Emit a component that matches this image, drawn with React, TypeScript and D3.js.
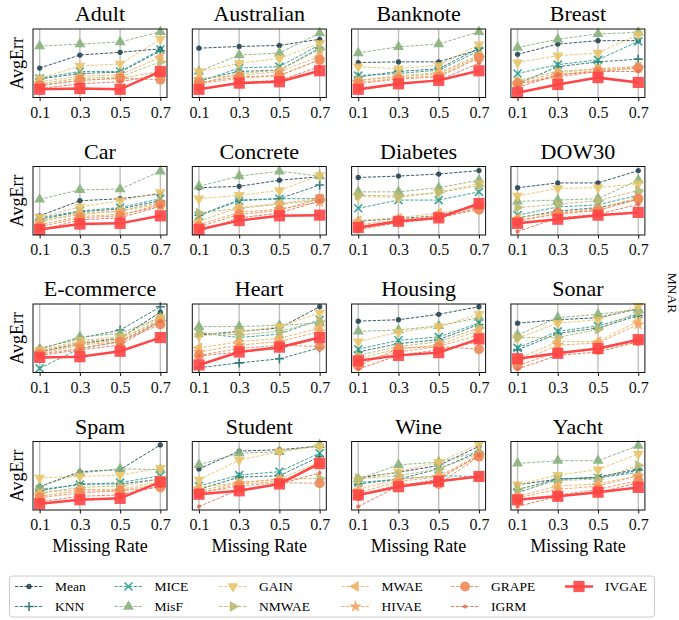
import * as d3 from 'd3';
import React, { useRef, useEffect } from 'react';

// missing rates on the x axis
const rates = [0.1, 0.3, 0.5, 0.7];

const methods = ["Mean", "KNN", "MICE", "MisF", "GAIN", "NMWAE", "MWAE", "HIVAE", "GRAPE", "IGRM", "IVGAE"];
const colors = ["#264653", "#287271", "#2a9d8f", "#8ab17d", "#e9c46a", "#babb74", "#efb366", "#f4a261", "#ee8959", "#e76f51", "#ff4545"];
const markers = ["dot", "plus", "x", "triUp", "triDown", "triRight", "triLeft", "star", "bigCircle", "smallDot", "square"];

// AvgErr per dataset, rows follow `methods` (normalised per panel)
const adult = [
    [0.43, 0.62, 0.66, 0.71], [0.27, 0.35, 0.37, 0.68], [0.28, 0.38, 0.38, 0.70], [0.75, 0.78, 0.81, 0.96],
    [0.28, 0.46, 0.49, 0.85], [0.20, 0.28, 0.30, 0.52], [0.23, 0.31, 0.33, 0.59], [0.18, 0.25, 0.28, 0.38],
    [0.17, 0.25, 0.28, 0.26], [0.13, 0.20, 0.23, 0.33], [0.12, 0.13, 0.12, 0.38]];
const australian = [
    [0.72, 0.745, 0.76, 0.85], [0.25, 0.38, 0.40, 0.72], [0.23, 0.43, 0.45, 0.77], [0.38, 0.62, 0.65, 0.94],
    [0.38, 0.50, 0.57, 0.79], [0.20, 0.35, 0.40, 0.70], [0.28, 0.32, 0.38, 0.60], [0.20, 0.28, 0.32, 0.55],
    [0.22, 0.30, 0.32, 0.55], [0.12, 0.22, 0.25, 0.45], [0.12, 0.21, 0.23, 0.39]];
const banknote = [
    [0.51, 0.52, 0.52, 0.70], [0.30, 0.38, 0.42, 0.72], [0.32, 0.35, 0.40, 0.68], [0.65, 0.74, 0.78, 0.96],
    [0.45, 0.42, 0.47, 0.77], [0.25, 0.30, 0.35, 0.60], [0.25, 0.32, 0.36, 0.62], [0.22, 0.28, 0.32, 0.58],
    [0.20, 0.27, 0.30, 0.58], [0.10, 0.20, 0.25, 0.50], [0.12, 0.20, 0.25, 0.39]];
const breast = [
    [0.63, 0.78, 0.83, 0.83], [0.20, 0.45, 0.52, 0.56], [0.35, 0.48, 0.55, 0.82], [0.73, 0.85, 0.93, 0.95],
    [0.51, 0.61, 0.65, 0.92], [0.25, 0.38, 0.42, 0.45], [0.22, 0.36, 0.42, 0.45], [0.20, 0.33, 0.40, 0.43],
    [0.20, 0.30, 0.38, 0.43], [0.15, 0.33, 0.38, 0.38], [0.07, 0.19, 0.29, 0.22]];
const car = [
    [0.28, 0.50, 0.53, 0.60], [0.23, 0.34, 0.38, 0.50], [0.25, 0.35, 0.40, 0.53], [0.52, 0.66, 0.67, 0.93],
    [0.26, 0.41, 0.50, 0.62], [0.20, 0.30, 0.35, 0.48], [0.20, 0.32, 0.35, 0.45], [0.15, 0.27, 0.30, 0.42],
    [0.12, 0.25, 0.28, 0.45], [0.07, 0.22, 0.25, 0.42], [0.08, 0.16, 0.17, 0.28]];
const concrete = [
    [0.69, 0.71, 0.80, 0.85], [0.29, 0.51, 0.53, 0.73], [0.28, 0.50, 0.53, 0.53], [0.71, 0.86, 0.93, 0.86],
    [0.53, 0.58, 0.65, 0.87], [0.32, 0.39, 0.45, 0.51], [0.20, 0.40, 0.46, 0.53], [0.15, 0.33, 0.38, 0.48],
    [0.12, 0.30, 0.36, 0.53], [0.05, 0.25, 0.32, 0.50], [0.08, 0.21, 0.28, 0.29]];
const diabetes = [
    [0.84, 0.86, 0.89, 0.94], [0.20, 0.24, 0.28, 0.45], [0.39, 0.51, 0.51, 0.63], [0.63, 0.63, 0.69, 0.80],
    [0.56, 0.55, 0.62, 0.75], [0.58, 0.57, 0.62, 0.72], [0.21, 0.25, 0.32, 0.41], [0.15, 0.22, 0.28, 0.42],
    [0.10, 0.20, 0.26, 0.37], [0.08, 0.18, 0.24, 0.40], [0.11, 0.20, 0.25, 0.46]];
const dow30 = [
    [0.69, 0.76, 0.76, 0.94], [0.25, 0.35, 0.40, 0.52], [0.29, 0.41, 0.44, 0.58], [0.49, 0.51, 0.53, 0.80],
    [0.57, 0.68, 0.69, 0.75], [0.40, 0.45, 0.50, 0.65], [0.25, 0.33, 0.38, 0.55], [0.22, 0.30, 0.36, 0.52],
    [0.20, 0.32, 0.36, 0.53], [0.05, 0.25, 0.30, 0.45], [0.17, 0.23, 0.29, 0.33]];
const ecommerce = [
    [0.30, 0.42, 0.50, 0.88], [0.35, 0.50, 0.62, 0.96], [0.06, 0.35, 0.45, 0.75], [0.34, 0.52, 0.57, 0.80],
    [0.32, 0.47, 0.52, 0.80], [0.30, 0.45, 0.50, 0.76], [0.32, 0.42, 0.47, 0.78], [0.28, 0.40, 0.45, 0.73],
    [0.27, 0.35, 0.45, 0.70], [0.25, 0.33, 0.40, 0.75], [0.22, 0.23, 0.31, 0.51]];
const heart = [
    [0.55, 0.60, 0.65, 0.96], [0.07, 0.14, 0.20, 0.36], [0.58, 0.51, 0.56, 0.77], [0.67, 0.67, 0.69, 0.72],
    [0.53, 0.59, 0.67, 0.87], [0.58, 0.55, 0.60, 0.75], [0.36, 0.45, 0.50, 0.65], [0.30, 0.40, 0.45, 0.60],
    [0.25, 0.35, 0.40, 0.38], [0.24, 0.30, 0.35, 0.50], [0.11, 0.30, 0.37, 0.51]];
const housing = [
    [0.75, 0.77, 0.85, 0.96], [0.30, 0.42, 0.48, 0.70], [0.34, 0.47, 0.52, 0.72], [0.60, 0.62, 0.68, 0.80],
    [0.45, 0.59, 0.67, 0.85], [0.25, 0.38, 0.45, 0.65], [0.20, 0.35, 0.40, 0.62], [0.15, 0.30, 0.38, 0.55],
    [0.10, 0.35, 0.38, 0.34], [0.05, 0.25, 0.33, 0.45], [0.17, 0.25, 0.29, 0.49]];
const sonar = [
    [0.72, 0.77, 0.80, 0.93], [0.33, 0.57, 0.65, 0.83], [0.36, 0.60, 0.68, 0.85], [0.55, 0.80, 0.85, 0.92],
    [0.50, 0.72, 0.77, 0.97], [0.51, 0.51, 0.63, 0.88], [0.20, 0.45, 0.45, 0.75], [0.15, 0.40, 0.43, 0.70],
    [0.10, 0.30, 0.33, 0.46], [0.05, 0.25, 0.30, 0.45], [0.20, 0.28, 0.35, 0.48]];
const spam = [
    [0.34, 0.56, 0.59, 0.95], [0.28, 0.38, 0.38, 0.45], [0.30, 0.37, 0.40, 0.50], [0.34, 0.54, 0.60, 0.59],
    [0.47, 0.49, 0.51, 0.61], [0.25, 0.33, 0.35, 0.45], [0.25, 0.30, 0.30, 0.42], [0.20, 0.28, 0.28, 0.38],
    [0.18, 0.25, 0.28, 0.33], [0.12, 0.20, 0.22, 0.35], [0.09, 0.15, 0.17, 0.41]];
const student = [
    [0.60, 0.86, 0.88, 0.93], [0.30, 0.48, 0.50, 0.78], [0.35, 0.51, 0.56, 0.83], [0.66, 0.83, 0.85, 0.95],
    [0.44, 0.73, 0.85, 0.93], [0.28, 0.40, 0.45, 0.46], [0.33, 0.40, 0.45, 0.70], [0.25, 0.38, 0.42, 0.65],
    [0.25, 0.35, 0.40, 0.39], [0.05, 0.30, 0.38, 0.54], [0.23, 0.28, 0.38, 0.68]];
const wine = [
    [0.47, 0.55, 0.65, 0.93], [0.38, 0.45, 0.60, 0.85], [0.40, 0.45, 0.50, 0.49], [0.45, 0.66, 0.70, 0.85],
    [0.44, 0.56, 0.70, 0.96], [0.46, 0.50, 0.60, 0.82], [0.30, 0.45, 0.50, 0.80], [0.25, 0.42, 0.48, 0.78],
    [0.20, 0.38, 0.38, 0.78], [0.05, 0.35, 0.45, 0.80], [0.22, 0.34, 0.42, 0.49]];
const yacht = [
    [0.37, 0.45, 0.48, 0.60], [0.30, 0.45, 0.47, 0.58], [0.25, 0.45, 0.47, 0.55], [0.68, 0.72, 0.72, 0.94],
    [0.37, 0.51, 0.59, 0.82], [0.30, 0.43, 0.45, 0.65], [0.20, 0.35, 0.38, 0.50], [0.18, 0.30, 0.35, 0.50],
    [0.15, 0.22, 0.30, 0.43], [0.05, 0.20, 0.25, 0.40], [0.15, 0.20, 0.26, 0.33]];

const datasets = ["Adult", "Australian", "Banknote", "Breast", "Car", "Concrete", "Diabetes", "DOW30",
    "E-commerce", "Heart", "Housing", "Sonar", "Spam", "Student", "Wine", "Yacht"];
const errors = [adult, australian, banknote, breast, car, concrete, diabetes, dow30,
    ecommerce, heart, housing, sonar, spam, student, wine, yacht];

const width = 679;
const height = 620;
const font = "'Liberation Serif', 'Times New Roman', serif";

// layout of the 4x4 grid
const gridLeft = 33, colStep = 159.3, panelW = 134;
const gridTop = 29, rowStep = 137.5, panelH = 68.5;

function markerPath(type) {
    switch (type) {
        case "dot": return d3.symbol(d3.symbolCircle, 22)();
        case "smallDot": return d3.symbol(d3.symbolCircle, 14)();
        case "bigCircle": return d3.symbol(d3.symbolCircle, 80)();
        case "square": return d3.symbol(d3.symbolSquare, 125)();
        case "star": return d3.symbol(d3.symbolStar, 48)();
        case "plus": return "M-4.5,0H4.5M0,-4.5V4.5";
        case "x": return "M-4,-4L4,4M-4,4L4,-4";
        default: return d3.symbol(d3.symbolTriangle, 52)();
    }
}

function markerRotation(type) {
    if (type === "triDown") return 180;
    if (type === "triRight") return 90;
    if (type === "triLeft") return -90;
    return 0;
}

function drawMarker(g, type, color, x, y) {
    const stroked = type === "plus" || type === "x";
    g.append("path")
        .attr("d", markerPath(type))
        .attr("transform", `translate(${x},${y}) rotate(${markerRotation(type)})`)
        .attr("fill", stroked ? "none" : color)
        .attr("stroke", stroked ? color : "none")
        .attr("stroke-width", stroked ? 1.6 : 0)
        .attr("opacity", 0.9);
}

function App() {
    const ref = useRef();

    useEffect(() => {
        const svg = d3.select(ref.current);
        svg.selectAll("*").remove();

        svg.append("rect").attr("width", width).attr("height", height).attr("fill", "white");

        const x = d3.scaleLinear().domain([0.067, 0.733]).range([0, panelW]);
        const y = d3.scaleLinear().domain([0, 1]).range([panelH, 0]);

        datasets.forEach((name, i) => {
            const row = Math.floor(i / 4), col = i % 4;
            const g = svg.append("g")
                .attr("transform", `translate(${gridLeft + col * colStep},${gridTop + row * rowStep})`);

            // vertical grid
            g.append("g")
                .selectAll("line")
                .data(rates)
                .join("line")
                .attr("x1", d => x(d)).attr("x2", d => x(d))
                .attr("y1", 0).attr("y2", panelH)
                .attr("stroke", "#b0b0b0")
                .attr("stroke-width", 1.4)
                .attr("opacity", 0.8);

            const line = d3.line().x((d, k) => x(rates[k])).y(d => y(d));

            errors[i].forEach((vals, m) => {
                const isOurs = methods[m] === "IVGAE";
                g.append("path")
                    .attr("d", line(vals))
                    .attr("fill", "none")
                    .attr("stroke", colors[m])
                    .attr("stroke-width", isOurs ? 2.5 : 0.9)
                    .attr("stroke-dasharray", isOurs ? null : "3.3,1.5");
                vals.forEach((v, k) => drawMarker(g, markers[m], colors[m], x(rates[k]), y(v)));
            });

            // frame
            g.append("rect")
                .attr("width", panelW).attr("height", panelH)
                .attr("fill", "none").attr("stroke", "#111").attr("stroke-width", 1);

            const axis = g.append("g")
                .attr("transform", `translate(0,${panelH})`)
                .call(d3.axisBottom(x).tickValues(rates).tickFormat(d3.format(".1f")).tickSize(3.5).tickPadding(5.5));
            axis.select(".domain").remove();
            axis.selectAll("text").attr("font-family", font).attr("font-size", 16).attr("fill", "#111");
            axis.selectAll("line").attr("stroke", "#111");

            g.append("text")
                .attr("x", panelW / 2).attr("y", -8)
                .attr("text-anchor", "middle")
                .attr("font-family", font).attr("font-size", 22)
                .text(name);

            if (col === 0) {
                g.append("text")
                    .attr("transform", `translate(-10,${panelH / 2}) rotate(-90)`)
                    .attr("text-anchor", "middle")
                    .attr("font-family", font).attr("font-size", 18)
                    .text("AvgErr");
            }
            if (row === 3) {
                g.append("text")
                    .attr("x", panelW / 2).attr("y", panelH + 42)
                    .attr("text-anchor", "middle")
                    .attr("font-family", font).attr("font-size", 18)
                    .text("Missing Rate");
            }
        });

        svg.append("text")
            .attr("transform", "translate(668,293) rotate(90)")
            .attr("text-anchor", "middle")
            .attr("font-family", font).attr("font-size", 13.5)
            .text("MNAR");

        // legend
        const legend = svg.append("g");
        legend.append("rect")
            .attr("x", 9.5).attr("y", 576).attr("width", 645).attr("height", 41).attr("rx", 3)
            .attr("fill", "white").attr("stroke", "#cccccc").attr("stroke-width", 1);

        const colX = [15, 114.5, 219, 341.5, 451, 565];
        const rowY = [586.5, 606.5];
        methods.forEach((mName, m) => {
            const lx = colX[Math.floor(m / 2)];
            const ly = rowY[m % 2];
            const isOurs = mName === "IVGAE";
            legend.append("line")
                .attr("x1", lx).attr("x2", lx + 28).attr("y1", ly).attr("y2", ly)
                .attr("stroke", colors[m])
                .attr("stroke-width", isOurs ? 2.5 : 0.9)
                .attr("stroke-dasharray", isOurs ? null : "3.3,1.5");
            drawMarker(legend, markers[m], colors[m], lx + 14, ly);
            legend.append("text")
                .attr("x", lx + 40).attr("y", ly)
                .attr("dy", "0.35em")
                .attr("font-family", font).attr("font-size", 13.5)
                .text(mName);
        });
    }, []);

    return (
        <svg ref={ref} width={width} height={height}
            style={{ position: "absolute", left: 0, top: 0 }}>
        </svg>
    );
}

export default App;
